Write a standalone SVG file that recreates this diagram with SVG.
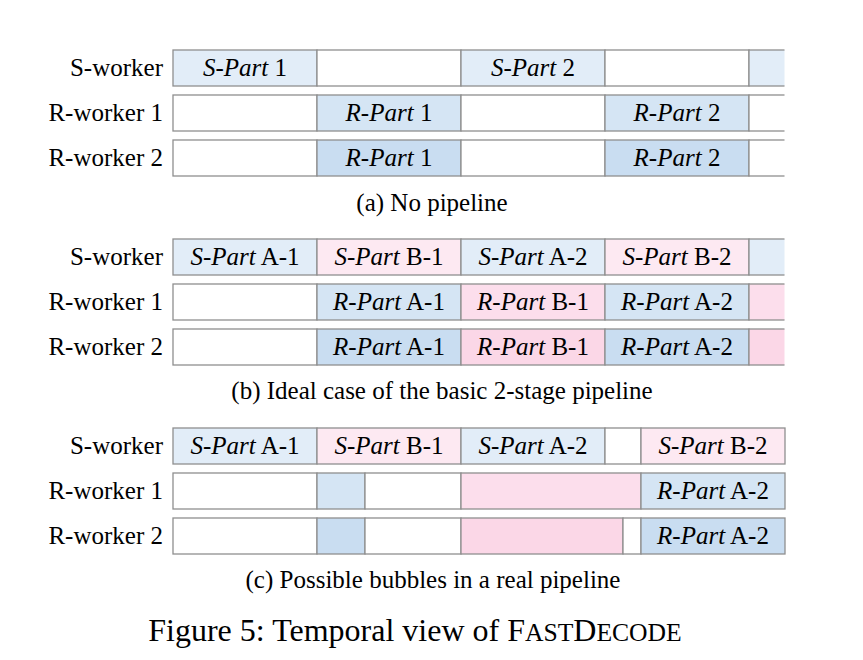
<svg xmlns="http://www.w3.org/2000/svg" width="863" height="660" viewBox="0 0 863 660">
<style>
  text { font-family: "Liberation Serif", "Times New Roman", serif; fill: #000; }
  .lbl { font-size: 25px; text-anchor: end; }
  .ct { font-size: 25px; text-anchor: middle; }
  .cap { font-size: 25px; text-anchor: middle; }
  .fig { font-size: 32px; text-anchor: middle; }
  .it { font-style: italic; }
  .sc { font-size: 25.6px; }
  rect { stroke: #8f8f8f; stroke-width: 1.3; }
  .w { fill: #ffffff; }
  .sb { fill: #e2edf8; }
  .b1 { fill: #d5e5f4; }
  .b2 { fill: #c9ddf1; }
  .sp { fill: #fde9f2; }
  .p1 { fill: #fcdeec; }
  .p2 { fill: #fbd7e7; }
</style>
<defs>
  <clipPath id="clipR"><rect x="0" y="0" width="784.5" height="660" style="stroke:none"/></clipPath>
</defs>

<!-- (a) No pipeline -->
<g id="a-sworker" clip-path="url(#clipR)">
  <text class="lbl" x="163" y="76">S-worker</text>
  <rect class="sb" x="173" y="50" width="144" height="36"/>
  <rect class="w" x="317" y="50" width="144" height="36"/>
  <rect class="sb" x="461" y="50" width="144" height="36"/>
  <rect class="w" x="605" y="50" width="144" height="36"/>
  <rect class="sb" x="749" y="50" width="144" height="36"/>
  <text class="ct" x="245" y="76"><tspan class="it">S-Part</tspan> 1</text>
  <text class="ct" x="533" y="76"><tspan class="it">S-Part</tspan> 2</text>
</g>
<g id="a-rworker1" clip-path="url(#clipR)">
  <text class="lbl" x="163" y="121">R-worker 1</text>
  <rect class="w" x="173" y="95" width="144" height="36"/>
  <rect class="b1" x="317" y="95" width="144" height="36"/>
  <rect class="w" x="461" y="95" width="144" height="36"/>
  <rect class="b1" x="605" y="95" width="144" height="36"/>
  <rect class="w" x="749" y="95" width="144" height="36"/>
  <text class="ct" x="389" y="121"><tspan class="it">R-Part</tspan> 1</text>
  <text class="ct" x="677" y="121"><tspan class="it">R-Part</tspan> 2</text>
</g>
<g id="a-rworker2" clip-path="url(#clipR)">
  <text class="lbl" x="163" y="166">R-worker 2</text>
  <rect class="w" x="173" y="140" width="144" height="36"/>
  <rect class="b2" x="317" y="140" width="144" height="36"/>
  <rect class="w" x="461" y="140" width="144" height="36"/>
  <rect class="b2" x="605" y="140" width="144" height="36"/>
  <rect class="w" x="749" y="140" width="144" height="36"/>
  <text class="ct" x="389" y="166"><tspan class="it">R-Part</tspan> 1</text>
  <text class="ct" x="677" y="166"><tspan class="it">R-Part</tspan> 2</text>
</g>
<text id="cap-a" class="cap" x="432" y="211">(a) No pipeline</text>

<!-- (b) Ideal case -->
<g id="b-sworker" clip-path="url(#clipR)">
  <text class="lbl" x="163" y="265">S-worker</text>
  <rect class="sb" x="173" y="239" width="144" height="36"/>
  <rect class="sp" x="317" y="239" width="144" height="36"/>
  <rect class="sb" x="461" y="239" width="144" height="36"/>
  <rect class="sp" x="605" y="239" width="144" height="36"/>
  <rect class="sb" x="749" y="239" width="144" height="36"/>
  <text class="ct" x="245" y="265"><tspan class="it">S-Part</tspan> A-1</text>
  <text class="ct" x="389" y="265"><tspan class="it">S-Part</tspan> B-1</text>
  <text class="ct" x="533" y="265"><tspan class="it">S-Part</tspan> A-2</text>
  <text class="ct" x="677" y="265"><tspan class="it">S-Part</tspan> B-2</text>
</g>
<g id="b-rworker1" clip-path="url(#clipR)">
  <text class="lbl" x="163" y="310">R-worker 1</text>
  <rect class="w" x="173" y="284" width="144" height="36"/>
  <rect class="b1" x="317" y="284" width="144" height="36"/>
  <rect class="p1" x="461" y="284" width="144" height="36"/>
  <rect class="b1" x="605" y="284" width="144" height="36"/>
  <rect class="p1" x="749" y="284" width="144" height="36"/>
  <text class="ct" x="389" y="310"><tspan class="it">R-Part</tspan> A-1</text>
  <text class="ct" x="533" y="310"><tspan class="it">R-Part</tspan> B-1</text>
  <text class="ct" x="677" y="310"><tspan class="it">R-Part</tspan> A-2</text>
</g>
<g id="b-rworker2" clip-path="url(#clipR)">
  <text class="lbl" x="163" y="355">R-worker 2</text>
  <rect class="w" x="173" y="329" width="144" height="36"/>
  <rect class="b2" x="317" y="329" width="144" height="36"/>
  <rect class="p2" x="461" y="329" width="144" height="36"/>
  <rect class="b2" x="605" y="329" width="144" height="36"/>
  <rect class="p2" x="749" y="329" width="144" height="36"/>
  <text class="ct" x="389" y="355"><tspan class="it">R-Part</tspan> A-1</text>
  <text class="ct" x="533" y="355"><tspan class="it">R-Part</tspan> B-1</text>
  <text class="ct" x="677" y="355"><tspan class="it">R-Part</tspan> A-2</text>
</g>
<text id="cap-b" class="cap" x="442" y="399">(b) Ideal case of the basic 2-stage pipeline</text>

<!-- (c) Possible bubbles -->
<g id="c-sworker">
  <text class="lbl" x="163" y="454">S-worker</text>
  <rect class="sb" x="173" y="428" width="144" height="36"/>
  <rect class="sp" x="317" y="428" width="144" height="36"/>
  <rect class="sb" x="461" y="428" width="144" height="36"/>
  <rect class="w" x="605" y="428" width="36" height="36"/>
  <rect class="sp" x="641" y="428" width="144" height="36"/>
  <text class="ct" x="245" y="454"><tspan class="it">S-Part</tspan> A-1</text>
  <text class="ct" x="389" y="454"><tspan class="it">S-Part</tspan> B-1</text>
  <text class="ct" x="533" y="454"><tspan class="it">S-Part</tspan> A-2</text>
  <text class="ct" x="713" y="454"><tspan class="it">S-Part</tspan> B-2</text>
</g>
<g id="c-rworker1">
  <text class="lbl" x="163" y="499">R-worker 1</text>
  <rect class="w" x="173" y="473" width="144" height="36"/>
  <rect class="b1" x="317" y="473" width="48" height="36"/>
  <rect class="w" x="365" y="473" width="96" height="36"/>
  <rect class="p1" x="461" y="473" width="180" height="36"/>
  <rect class="b1" x="641" y="473" width="144" height="36"/>
  <text class="ct" x="713" y="499"><tspan class="it">R-Part</tspan> A-2</text>
</g>
<g id="c-rworker2">
  <text class="lbl" x="163" y="544">R-worker 2</text>
  <rect class="w" x="173" y="518" width="144" height="36"/>
  <rect class="b2" x="317" y="518" width="48" height="36"/>
  <rect class="w" x="365" y="518" width="96" height="36"/>
  <rect class="p2" x="461" y="518" width="162" height="36"/>
  <rect class="w" x="623" y="518" width="18" height="36"/>
  <rect class="b2" x="641" y="518" width="144" height="36"/>
  <text class="ct" x="713" y="544"><tspan class="it">R-Part</tspan> A-2</text>
</g>
<text id="cap-c" class="cap" x="433" y="588">(c) Possible bubbles in a real pipeline</text>

<text id="fig-caption" class="fig" x="415" y="641">Figure 5: Temporal view of F<tspan class="sc">AST</tspan>D<tspan class="sc">ECODE</tspan></text>
</svg>
